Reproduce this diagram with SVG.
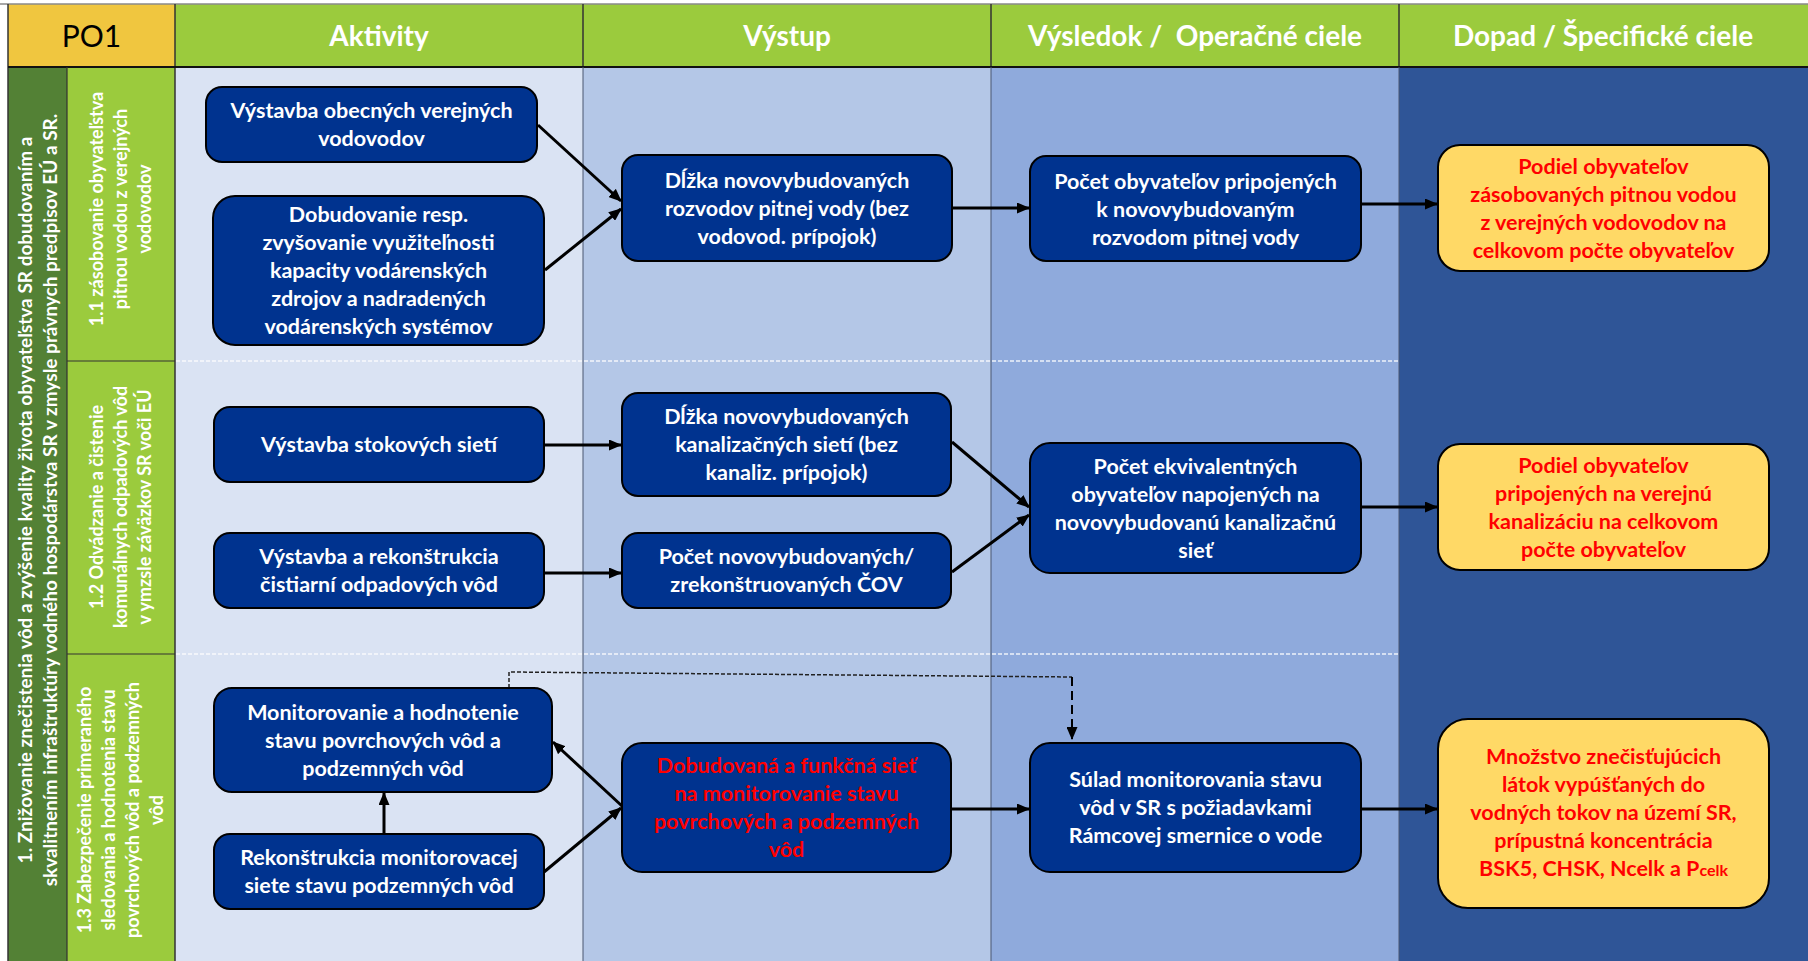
<svg xmlns="http://www.w3.org/2000/svg" width="1808" height="961" viewBox="0 0 1808 961">
<defs>
<style>
.hd{font-family:Lato,"Liberation Sans",sans-serif;font-weight:bold;font-size:28px;fill:#fff;text-anchor:middle}
.side{font-family:Lato,"Liberation Sans",sans-serif;font-weight:bold;fill:#fff;text-anchor:middle}
.bx{fill:#00338F;stroke:#000;stroke-width:2}
.yb{fill:#FFD966;stroke:#000;stroke-width:2}
.t{font-family:Lato,"Liberation Sans",sans-serif;font-weight:bold;font-size:21.5px;fill:#fff;text-anchor:middle}
.r{fill:#FF0000}
.c{stroke:#000;stroke-width:3;fill:none;marker-end:url(#ah)}
.wd{stroke:#fff;stroke-width:1.5;stroke-dasharray:4 2;opacity:0.85}
.sep{stroke:#4a5670;stroke-width:1}
</style>
<marker id="ah" markerWidth="13" markerHeight="11" refX="12" refY="5.5" orient="auto" markerUnits="userSpaceOnUse"><path d="M0,0 L13,5.5 L0,11 z" fill="#000"/></marker>
</defs>

<g id="background">
<rect x="0" y="0" width="1808" height="961" fill="#fff"/>
<rect x="8" y="4" width="167" height="63" fill="#F0C63F"/>
<rect x="175" y="4" width="1633" height="63" fill="#9BCB3D"/>
<rect x="8" y="67" width="59" height="894" fill="#538135"/>
<rect x="67" y="67" width="108" height="894" fill="#9BCB3D"/>
<rect x="175" y="67" width="408" height="894" fill="#DAE3F3"/>
<rect x="583" y="67" width="408" height="894" fill="#B4C7E7"/>
<rect x="991" y="67" width="408" height="894" fill="#8FAADC"/>
<rect x="1399" y="67" width="409" height="894" fill="#2F5597"/>
<line x1="0" y1="4" x2="1808" y2="4" stroke="#8a8a8a" stroke-width="1.5"/>
<line x1="8" y1="4" x2="8" y2="961" stroke="#333" stroke-width="1.5"/>
<line x1="175" y1="4" x2="175" y2="961" stroke="#333" stroke-width="1.5"/>
<line x1="583" y1="4" x2="583" y2="67" stroke="#333" stroke-width="1.5"/>
<line x1="991" y1="4" x2="991" y2="67" stroke="#333" stroke-width="1.5"/>
<line x1="1399" y1="4" x2="1399" y2="67" stroke="#333" stroke-width="1.5"/>
<line x1="8" y1="67" x2="1808" y2="67" stroke="#111" stroke-width="2"/>
<line x1="67" y1="67" x2="67" y2="961" stroke="#333" stroke-width="1.2"/>
<line x1="67" y1="361" x2="175" y2="361" stroke="#333" stroke-width="1.2"/>
<line x1="67" y1="654" x2="175" y2="654" stroke="#333" stroke-width="1.2"/>
<line class="sep" x1="583" y1="67" x2="583" y2="961"/>
<line class="sep" x1="991" y1="67" x2="991" y2="961"/>
<line class="sep" x1="1399" y1="67" x2="1399" y2="961"/>
<line class="wd" x1="176" y1="361" x2="1399" y2="361"/>
<line class="wd" x1="176" y1="654" x2="1399" y2="654"/>
</g>

<g id="header">
<text x="91.5" y="47" font-family="Lato,'Liberation Sans',sans-serif" font-size="30" fill="#000" text-anchor="middle">PO1</text>
<text class="hd" x="379" y="46">Aktivity</text>
<text class="hd" x="787" y="46">Výstup</text>
<text class="hd" x="1195" y="46" xml:space="preserve">Výsledok /  Operačné ciele</text>
<text class="hd" x="1603" y="46">Dopad / Špecifické ciele</text>
</g>

<g id="side-labels">
<text class="side" font-size="19" transform="translate(37.5,500) rotate(-90)"><tspan x="0" y="-6">1. Znižovanie znečistenia vôd a zvýšenie kvality života obyvateľstva SR dobudovaním a</tspan><tspan x="0" y="19">skvalitnením infraštruktúry vodného hospodárstva SR v zmysle právnych predpisov EÚ a SR.</tspan></text>
<text class="side" font-size="18" transform="translate(121,209) rotate(-90)"><tspan x="0" y="-18">1.1 zásobovanie obyvateľstva</tspan><tspan x="0" y="6">pitnou vodou z verejných</tspan><tspan x="0" y="30">vodovodov</tspan></text>
<text class="side" font-size="18" transform="translate(121,507) rotate(-90)"><tspan x="0" y="-18">1.2 Odvádzanie a čistenie</tspan><tspan x="0" y="6">komunálnych odpadových vôd</tspan><tspan x="0" y="30">v ymzsle záväzkov SR voči EÚ</tspan></text>
<text class="side" font-size="18" transform="translate(121,810) rotate(-90)"><tspan x="0" y="-30">1.3 Zabezpečenie primeraného</tspan><tspan x="0" y="-6">sledovania a hodnotenia stavu</tspan><tspan x="0" y="18">povrchových vôd a podzemných</tspan><tspan x="0" y="42">vôd</tspan></text>
</g>

<g id="connectors">
<line class="c" x1="538" y1="125" x2="621" y2="201"/>
<line class="c" x1="545" y1="270" x2="621" y2="209"/>
<line class="c" x1="952" y1="208" x2="1029" y2="208"/>
<line class="c" x1="1361" y1="204" x2="1437" y2="204"/>
<line class="c" x1="544" y1="445" x2="621" y2="445"/>
<line class="c" x1="544" y1="573" x2="621" y2="573"/>
<line class="c" x1="952" y1="442" x2="1029" y2="507"/>
<line class="c" x1="952" y1="572" x2="1029" y2="515"/>
<line class="c" x1="1361" y1="507" x2="1437" y2="507"/>
<line class="c" x1="384" y1="834" x2="384" y2="793"/>
<line class="c" x1="622" y1="806" x2="553" y2="742"/>
<line class="c" x1="544" y1="872" x2="621" y2="808"/>
<line class="c" x1="952" y1="809" x2="1029" y2="809"/>
<line class="c" x1="1361" y1="809" x2="1437" y2="809"/>
<path d="M509,688 L509,672 L1072,677" fill="none" stroke="#222" stroke-width="1.5" stroke-dasharray="4 2"/>
<path d="M1072,677 L1072,739" fill="none" stroke="#000" stroke-width="2" stroke-dasharray="9 5" marker-end="url(#ah)"/>
</g>

<g id="n-a1"><rect class="bx" x="206" y="87" width="331" height="75" rx="16"/>
<text class="t" x="371.5" y="118">Výstavba obecných verejných<tspan x="371.5" dy="28">vodovodov</tspan></text></g>

<g id="n-a2"><rect class="bx" x="213" y="196" width="331" height="149" rx="22"/>
<text class="t" x="378.5" y="222">Dobudovanie resp.<tspan x="378.5" dy="28">zvyšovanie využiteľnosti</tspan><tspan x="378.5" dy="28">kapacity vodárenských</tspan><tspan x="378.5" dy="28">zdrojov a nadradených</tspan><tspan x="378.5" dy="28">vodárenských systémov</tspan></text></g>

<g id="n-o1"><rect class="bx" x="622" y="155" width="330" height="106" rx="16"/>
<text class="t" x="787" y="187.5">Dĺžka novovybudovaných<tspan x="787" dy="28">rozvodov pitnej vody (bez</tspan><tspan x="787" dy="28">vodovod. prípojok)</tspan></text></g>

<g id="n-r1"><rect class="bx" x="1030" y="156" width="331" height="105" rx="16"/>
<text class="t" x="1195.5" y="188.5">Počet obyvateľov pripojených<tspan x="1195.5" dy="28">k novovybudovaným</tspan><tspan x="1195.5" dy="28">rozvodom pitnej vody</tspan></text></g>

<g id="n-d1"><rect class="yb" x="1438" y="145" width="331" height="126" rx="22"/>
<text class="t r" x="1603.5" y="173.5">Podiel obyvateľov<tspan x="1603.5" dy="28">zásobovaných pitnou vodou</tspan><tspan x="1603.5" dy="28">z verejných vodovodov na</tspan><tspan x="1603.5" dy="28">celkovom počte obyvateľov</tspan></text></g>

<g id="n-a3"><rect class="bx" x="214" y="407" width="330" height="75" rx="16"/>
<text class="t" x="379" y="452">Výstavba stokových sietí</text></g>

<g id="n-o2"><rect class="bx" x="622" y="393" width="329" height="103" rx="16"/>
<text class="t" x="786.5" y="424">Dĺžka novovybudovaných<tspan x="786.5" dy="28">kanalizačných sietí (bez</tspan><tspan x="786.5" dy="28">kanaliz. prípojok)</tspan></text></g>

<g id="n-a4"><rect class="bx" x="214" y="533" width="330" height="75" rx="16"/>
<text class="t" x="379" y="564">Výstavba a rekonštrukcia<tspan x="379" dy="28">čistiarní odpadových vôd</tspan></text></g>

<g id="n-o3"><rect class="bx" x="622" y="533" width="329" height="75" rx="16"/>
<text class="t" x="786.5" y="564">Počet novovybudovaných/<tspan x="786.5" dy="28">zrekonštruovaných ČOV</tspan></text></g>

<g id="n-r2"><rect class="bx" x="1030" y="443" width="331" height="130" rx="20"/>
<text class="t" x="1195.5" y="473.5">Počet ekvivalentných<tspan x="1195.5" dy="28">obyvateľov napojených na</tspan><tspan x="1195.5" dy="28">novovybudovanú kanalizačnú</tspan><tspan x="1195.5" dy="28">sieť</tspan></text></g>

<g id="n-d2"><rect class="yb" x="1438" y="444" width="331" height="126" rx="22"/>
<text class="t r" x="1603.5" y="472.5">Podiel obyvateľov<tspan x="1603.5" dy="28">pripojených na verejnú</tspan><tspan x="1603.5" dy="28">kanalizáciu na celkovom</tspan><tspan x="1603.5" dy="28">počte obyvateľov</tspan></text></g>

<g id="n-a5"><rect class="bx" x="214" y="688" width="338" height="104" rx="18"/>
<text class="t" x="383" y="719.5">Monitorovanie a hodnotenie<tspan x="383" dy="28">stavu povrchových vôd a</tspan><tspan x="383" dy="28">podzemných vôd</tspan></text></g>

<g id="n-a6"><rect class="bx" x="214" y="834" width="330" height="75" rx="16"/>
<text class="t" x="379" y="865">Rekonštrukcia monitorovacej<tspan x="379" dy="28">siete stavu podzemných vôd</tspan></text></g>

<g id="n-o4"><rect class="bx" x="622" y="743" width="329" height="129" rx="20"/>
<text class="t r" x="786.5" y="773">Dobudovaná a funkčná sieť<tspan x="786.5" dy="28">na monitorovanie stavu</tspan><tspan x="786.5" dy="28">povrchových a podzemných</tspan><tspan x="786.5" dy="28">vôd</tspan></text></g>

<g id="n-r3"><rect class="bx" x="1030" y="743" width="331" height="129" rx="20"/>
<text class="t" x="1195.5" y="787">Súlad monitorovania stavu<tspan x="1195.5" dy="28">vôd v SR s požiadavkami</tspan><tspan x="1195.5" dy="28">Rámcovej smernice o vode</tspan></text></g>

<g id="n-d3"><rect class="yb" x="1438" y="719" width="331" height="189" rx="30"/>
<text class="t r" x="1603.5" y="764">Množstvo znečisťujúcich<tspan x="1603.5" dy="28">látok vypúšťaných do</tspan><tspan x="1603.5" dy="28">vodných tokov na území SR,</tspan><tspan x="1603.5" dy="28">prípustná koncentrácia</tspan><tspan x="1603.5" dy="28">BSK5, CHSK, Ncelk a P<tspan font-size="16">celk</tspan></tspan></text></g>
</svg>
